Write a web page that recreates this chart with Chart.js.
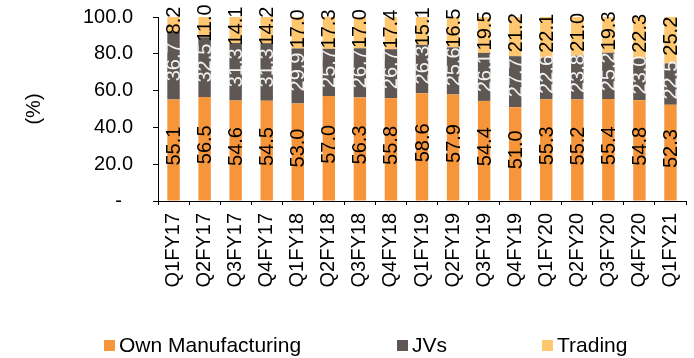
<!DOCTYPE html>
<html>
<head>
<meta charset="utf-8">
<script src="https://cdn.jsdelivr.net/npm/chart.js@4.4.0/dist/chart.umd.min.js"></script>
<style>
    body { margin: 0; background: #fff; }
    #wrap { position: relative; width: 694px; height: 358px; }
    #chartMix { position: absolute; left: 0; top: 0; }
    .legendItem { position: absolute; top: 333px; font: 21px "Liberation Sans", Arial, sans-serif; color: #000; line-height: 24px; white-space: nowrap; }
    .legendItem span { display: inline-block; width: 11px; height: 11px; margin-right: 4px; vertical-align: 1px; }
</style>
</head>
<body>
<div id="wrap">
    <canvas id="chartMix" width="694" height="358"></canvas>
    <div class="legendItem" style="left:104px"><span style="background:#f7953a"></span>Own Manufacturing</div>
    <div class="legendItem" style="left:397px"><span style="background:#5f5753"></span>JVs</div>
    <div class="legendItem" style="left:542px"><span style="background:#ffc870"></span>Trading</div>
</div>
<script>
var quarters = ['Q1FY17', 'Q2FY17', 'Q3FY17', 'Q4FY17', 'Q1FY18', 'Q2FY18', 'Q3FY18', 'Q4FY18',
    'Q1FY19', 'Q2FY19', 'Q3FY19', 'Q4FY19', 'Q1FY20', 'Q2FY20', 'Q3FY20', 'Q4FY20', 'Q1FY21'];
var ownManufacturing = [55.1, 56.5, 54.6, 54.5, 53.0, 57.0, 56.3, 55.8, 58.6, 57.9, 54.4, 51.0, 55.3, 55.2, 55.4, 54.8, 52.3];
var jvs = [36.7, 32.5, 31.3, 31.3, 29.9, 25.7, 26.7, 26.7, 26.3, 25.6, 26.1, 27.7, 22.6, 23.8, 25.2, 23.0, 22.5];
var trading = [8.2, 11.0, 14.1, 14.2, 17.0, 17.3, 17.0, 17.4, 15.1, 16.5, 19.5, 21.2, 22.1, 21.0, 19.3, 22.3, 25.2];
var yTicks = [0, 20, 40, 60, 80, 100];

var fontName = '"Liberation Sans", Arial, sans-serif';

// rotated value labels in the middle of each segment
var segmentLabels = {
    id: 'segmentLabels',
    afterDatasetsDraw: function (chart) {
        var ctx = chart.ctx;
        ctx.save();
        ctx.font = '20px ' + fontName;
        ctx.textAlign = 'center';
        ctx.textBaseline = 'middle';
        chart.data.datasets.forEach(function (ds, i) {
            var meta = chart.getDatasetMeta(i);
            meta.data.forEach(function (bar, j) {
                var mid = (bar.y + bar.base) / 2 - 4;
                ctx.save();
                ctx.translate(bar.x, mid);
                ctx.rotate(-Math.PI / 2);
                ctx.fillStyle = ds.labelColor;
                ctx.fillText(ds.data[j].toFixed(1), 0, 1);
                ctx.restore();
            });
        });
        ctx.restore();
    }
};

var chartDashMix = document.getElementById('chartMix');

var chartMix = new Chart(chartDashMix, {
    type: 'bar',
    data: {
        labels: quarters,
        datasets: [{
            label: 'Own Manufacturing',
            data: ownManufacturing,
            backgroundColor: '#f7953a',
            labelColor: '#000'
        }, {
            label: 'JVs',
            data: jvs,
            backgroundColor: '#5f5753',
            labelColor: '#f2f2f2'
        }, {
            label: 'Trading',
            data: trading,
            backgroundColor: '#ffc870',
            labelColor: '#000'
        }]
    },
    options: {
        responsive: false,
        animation: false,
        layout: {
            padding: { top: 17, right: 8, left: 0, bottom: 0 }
        },
        datasets: {
            bar: {
                barPercentage: 0.4,
                categoryPercentage: 1
            }
        },
        scales: {
            x: {
                stacked: true,
                afterFit: function (scale) {
                    scale.height = 157;
                    scale.paddingLeft = 0;
                    scale.paddingRight = 0;
                },
                border: { display: true, color: '#000', width: 1 },
                grid: { drawOnChartArea: false, drawTicks: true, tickLength: 4, color: '#000', offset: true },
                ticks: {
                    minRotation: 90,
                    maxRotation: 90,
                    padding: 8,
                    color: '#000',
                    font: { family: fontName, size: 20 }
                }
            },
            y: {
                stacked: true,
                min: 0,
                max: 100,
                afterFit: function (scale) {
                    scale.width = 158;
                    scale.paddingTop = 0;
                    scale.paddingBottom = 0;
                },
                afterBuildTicks: function (scale) {
                    scale.ticks = yTicks.map(function (v) { return { value: v }; });
                },
                border: { display: true, color: '#000', width: 1 },
                grid: { drawOnChartArea: false, drawTicks: true, tickLength: 5, color: '#000' },
                ticks: {
                    padding: 20,
                    color: '#000',
                    font: { family: fontName, size: 20 },
                    callback: function (v) { return v === 0 ? '-  ' : v.toFixed(1); }
                },
                title: {
                    display: true,
                    text: '(%)',
                    color: '#000',
                    font: { family: fontName, size: 20 },
                    padding: { top: 22 }
                }
            }
        },
        plugins: {
            legend: { display: false },
            tooltip: { enabled: false }
        }
    },
    plugins: [segmentLabels]
});
</script>
</body>
</html>
